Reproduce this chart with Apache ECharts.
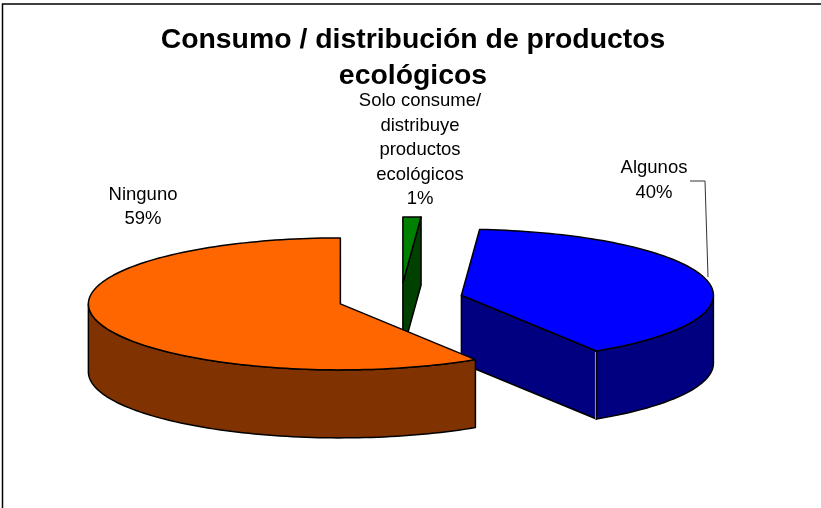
<!DOCTYPE html>
<html>
<head>
<meta charset="utf-8">
<style>html,body{margin:0;padding:0;background:#fff}#c{width:821px;height:508px}</style>
<script src="https://cdn.jsdelivr.net/npm/echarts@6/dist/echarts.min.js"></script>
</head>
<body>
<div id="c"></div>
<script>
var chartTitle = 'Consumo / distribución de productos\necológicos';
var categories = ['Solo consume/\ndistribuye\nproductos\necológicos', 'Algunos', 'Ninguno'];
var values = [1.15, 39.85, 59];
var topColors = ['#008000', '#0000FF', '#FF6600'];
var wallColors = ['#004000', '#000080', '#803300'];
var labelCenters = [[420, 150.2], [654, 180.5], [143, 206.8]];

var PIE_X = 400.6, PIE_Y = 299.3, RX = 252, RY = 66, DEPTH = 68, EXPLODE = 62.7;
var total = values.reduce(function (a, b) { return a + b; }, 0);
var DEG = Math.PI / 180;

function rimPoint(c, deg, dy) {
  return [c[0] + RX * Math.sin(deg * DEG), c[1] - RY * Math.cos(deg * DEG) + (dy || 0)];
}
function arcPoints(c, a, b, dy) {
  var pts = [], n = Math.max(2, Math.ceil(Math.abs(b - a) / 1.5));
  for (var i = 0; i <= n; i++) pts.push(rimPoint(c, a + (b - a) * i / n, dy));
  return pts;
}
function poly(points, fill, z) {
  return {
    type: 'polygon', z2: z,
    shape: { points: points },
    style: { fill: fill, stroke: '#000', lineWidth: 1.5, lineJoin: 'round' }
  };
}
var startAngles = [];
values.reduce(function (acc, v, i) { startAngles[i] = acc; return acc + v / total * 360; }, 0);

function renderSlice(params, api) {
  var i = params.dataIndex, v = api.value(0);
  var a0 = startAngles[i], a1 = a0 + v / total * 360, mid = (a0 + a1) / 2;
  var c = [PIE_X + EXPLODE * Math.sin(mid * DEG), PIE_Y - EXPLODE * (RY / RX) * Math.cos(mid * DEG)];
  var kids = [];
  function radial(deg) {
    var p = rimPoint(c, deg);
    kids.push(poly([c, p, [p[0], p[1] + DEPTH], [c[0], c[1] + DEPTH]], wallColors[i], 1));
  }
  if (a0 > 180 && a0 < 360) radial(a0);
  if (a1 > 0 && a1 < 180) radial(a1);
  var r0 = Math.max(a0, 90), r1 = Math.min(a1, 270);
  if (r1 > r0) {
    var upper = arcPoints(c, r0, r1, 0), lower = arcPoints(c, r1, r0, DEPTH);
    kids.push(poly(upper.concat(lower), wallColors[i], 2));
  }
  kids.push(poly([c].concat(arcPoints(c, a0, a1, 0)), topColors[i], 3));
  if (a1 > 0 && a1 < 180 && i === 1) {
    var e = rimPoint(c, a1);
    kids.push({
      type: 'line', z2: 4,
      shape: { x1: e[0] - 1, y1: e[1] + 1, x2: e[0] - 1, y2: e[1] + DEPTH },
      style: { stroke: '#9a9a9a', lineWidth: 1 }
    });
  }
  kids.push({
    type: 'text', z2: 5,
    x: labelCenters[i][0], y: labelCenters[i][1],
    style: {
      text: categories[i] + '\n' + Math.round(v / total * 100) + '%',
      fill: '#000', align: 'center', verticalAlign: 'middle',
      font: '18.5px "Liberation Sans", Arial, sans-serif', lineHeight: 24.6
    }
  });
  return { type: 'group', children: kids };
}

var chart = echarts.init(document.getElementById('c'), null, { renderer: 'canvas' });
chart.setOption({
  animation: false,
  backgroundColor: '#fff',
  title: {
    text: chartTitle, left: 408, top: 17, textAlign: 'center',
    textStyle: { fontFamily: '"Liberation Sans", Arial, sans-serif', fontWeight: 'bold', fontSize: 28.4, lineHeight: 36, color: '#000' }
  },
  graphic: [
    { type: 'polyline', silent: true, shape: { points: [[690, 181], [705, 181], [708, 277]] }, style: { fill: 'none', stroke: '#333', lineWidth: 1 }, z: 10 },
    { type: 'polyline', silent: true, shape: { points: [[2.5, 508], [2.5, 4], [821, 4]] }, style: { fill: 'none', stroke: '#000', lineWidth: 1.5 }, z: 10 }
  ],
  series: [{
    type: 'custom',
    coordinateSystem: 'none',
    renderItem: renderSlice,
    data: values.map(function (v, i) { return { name: categories[i], value: [v] }; })
  }]
});
</script>
</body>
</html>
